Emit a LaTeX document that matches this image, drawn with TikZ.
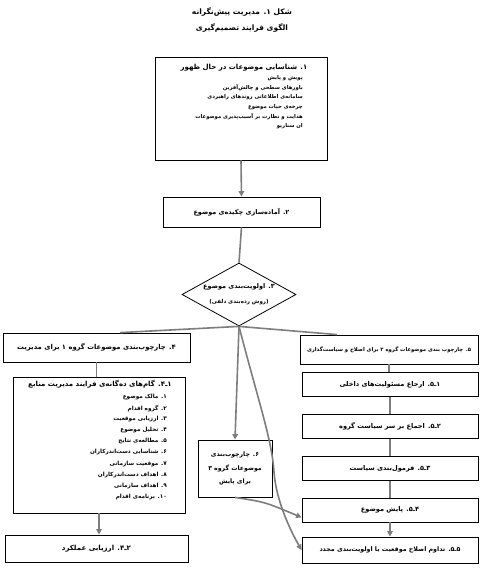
\documentclass[tikz,border=0pt]{standalone}
\usepackage{fontspec}
\TeXXeTstate=1
\newfontfamily\fa[Script=Arabic]{DejaVu Sans}
\usetikzlibrary{shapes.geometric,arrows.meta,calc}
\definecolor{linegray}{RGB}{125,125,125}
\newcommand\rl[1]{\beginR#1\endR}
\newcommand\fs[1]{\fontsize{#1}{#1}\selectfont}
\begin{document}
\begin{tikzpicture}[x=1pt,y=-1pt,
  box/.style={draw=black,line width=0.8pt,inner sep=0pt,fill=white},
  txt/.style={inner sep=0pt,font=\fa\bfseries\fs{6.6}},
  conn/.style={draw=linegray,line width=1.6pt},
  arr/.style={conn,-{Triangle[width=5.5pt,length=5.5pt]}}]
\fill[white] (0,0) rectangle (480,568);
\useasboundingbox (0,0) rectangle (480,568);

% title
\node[txt,font=\fa\bfseries\fs{7.5}] (t1) at (242,12) {\rl{شکل ‏۱. مدیریت پیش‌نگرانه}};
\node[txt,font=\fa\bfseries\fs{7.5}] (t2) at (242,28) {\rl{الگوی فرایند تصمیم‌گیری}};

% boxes
\node[box,minimum width=172,minimum height=103] (b1) at (241,108.5) {};
\node[txt,font=\fa\bfseries\fs{7}] (b1t) at (244,68) {\rl{‏۱. شناسایی موضوعات در حال ظهور}};
\foreach \s [count=\k from 0] in {پویش و پایش,باورهای سطحی و چالش‌آفرین,سامانه‌ی اطلاعاتی روندهای راهبردی,چرخه‌ی حیات موضوع,هدایت و نظارت بر آسیب‌پذیری موضوعات,ان سناریو}
  \node[txt,font=\fa\bfseries\fs{5.3},anchor=east] (b1i\k) at (303,78+9.7*\k) {\rl{\s}};

\node[box,minimum width=157,minimum height=30,txt,font=\fa\bfseries\fs{6.5}] (b2) at (241.5,212) {\rl{‏۲. آماده‌سازی چکیده‌ی موضوع}};

\node[draw=black,line width=0.8pt,shape=diamond,minimum width=114,minimum height=63,inner sep=0pt,fill=white] (d) at (239,294.5) {};
\node[txt,font=\fa\bfseries\fs{6.5}] (dt1) at (239,287) {\rl{‏۳. اولویت‌بندی موضوع}};
\node[txt,font=\fa\bfseries\fs{5.5}] (dt2) at (239,302) {\rl{(روش رده‌بندی دلفی)}};

\node[box,minimum width=187,minimum height=29,txt,font=\fa\bfseries\fs{6.8}] (b4) at (96.5,347.5) {\rl{‏۴. چارچوب‌بندی موضوعات گروه ۱ برای مدیریت}};
\node[box,minimum width=178,minimum height=29,txt,font=\fa\bfseries\fs{5.3}] (b5) at (389,349.5) {\rl{‏۵. چارچوب بندی موضوعات گروه ۲ برای اصلاح و سیاست‌گذاری}};

\node[box,minimum width=172,minimum height=136] (b41) at (99,445) {};
\node[txt,font=\fa\bfseries\fs{7}] (b41t) at (100,384) {\rl{‏۱ـ۴. گام‌های ده‌گانه‌ی فرایند مدیریت منابع}};
\foreach \s [count=\k from 0] in {‏۱. مالک موضوع,‏۲. گروه اقدام,‏۳. ارزیابی موقعیت,‏۴. تحلیل موضوع,‏۵. مطالعه‌ی نتایج,‏۶. شناسایی دست‌اندرکاران,‏۷. موقعیت سازمانی,‏۸. اهداف دست‌اندرکاران,‏۹. اهداف سازمانی,‏۱۰. برنامه‌ی اقدام}
  \node[txt,font=\fa\bfseries\fs{5.7},anchor=east] (b41i\k) at (167,397+11.1*\k) {\rl{\s}};

\node[box,minimum width=183,minimum height=27,txt,font=\fa\bfseries\fs{7}] (b42) at (96.5,548.5) {\rl{‏۲ـ۴. ارزیابی عملکرد}};

\node[box,minimum width=74,minimum height=57,txt,font=\fa\bfseries\fs{6.2},align=center] (b6) at (235,468.5) {\rl{‏۶. چارچوب‌بندی}\\[6pt]\rl{موضوعات گروه ۳}\\[6pt]\rl{برای پایش}};

\node[box,minimum width=176,minimum height=24,txt] (b51) at (390,384.5) {\rl{‏۱ـ۵. ارجاع مسئولیت‌های داخلی}};
\node[box,minimum width=176,minimum height=24,txt] (b52) at (390,426.5) {\rl{‏۲ـ۵. اجماع بر سر سیاست گروه}};
\node[box,minimum width=176,minimum height=24,txt] (b53) at (390,468.5) {\rl{‏۳ـ۵. فرمول‌بندی سیاست}};
\node[box,minimum width=176,minimum height=24,txt] (b54) at (390,510) {\rl{‏۴ـ۵. پایش موضوع}};
\node[box,minimum width=176,minimum height=26,txt,font=\fa\bfseries\fs{6.3}] (b55) at (390,550) {\rl{‏۵ـ۵. تداوم اصلاح موقعیت یا اولویت‌بندی مجدد}};

% connectors
\coordinate (c4) at ($(b4.north west)!0.626!(b4.north east)$);
\coordinate (c5) at ($(b5.north west)!0.21!(b5.north east)$);
\coordinate (c54) at ($(b54.south west)!0.2!(b54.north west)$);
\coordinate (cm) at (274,472);
\draw[arr] (b1.south) -- (b2.north);
\draw[conn] (b2.south) -- (d.north);
\draw[conn] (d.south) -- (c4);
\draw[conn] (d.south) -- (c5);
\draw[arr] (d.south) -- (b6.north);
\draw[arr] (d.south) .. controls (258,400) and (272,440) .. (cm) .. controls (276,500) and (290,530) .. (b55.west);
\draw[arr] (b6.south) .. controls (265,502) .. (c54);
\draw[conn] (b4.south) -- (b4.south |- b41.north);
\draw[arr] (b41.south) -- (b41.south |- b42.north);
\draw[conn] (b5.south) -- (b5.south |- b51.north);
\draw[conn] (b51.south) -- (b52.north);
\draw[conn] (b52.south) -- (b53.north);
\draw[conn] (b53.south) -- (b54.north);
\draw[arr] (b54.south) -- (b55.north);
\end{tikzpicture}
\end{document}
